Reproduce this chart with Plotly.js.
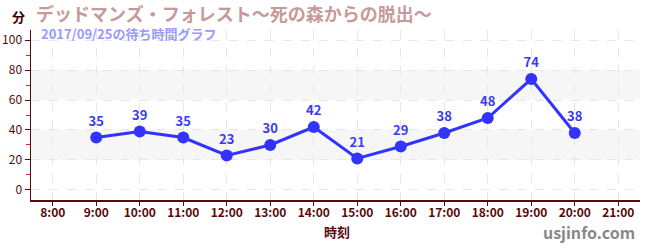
<!DOCTYPE html>
<html>
<head>
<meta charset="utf-8">
<script src="https://cdn.plot.ly/plotly-3.0.1.min.js"></script>
<style>html,body{margin:0;padding:0;background:#fff;}#chart{width:650px;height:250px;}</style>
</head>
<body>
<div id="chart"></div>
<script>
const hours = [9, 10, 11, 12, 13, 14, 15, 16, 17, 18, 19, 20];
const waits = [35, 39, 35, 23, 30, 42, 21, 29, 38, 48, 74, 38];
const xTickVals = [8, 9, 10, 11, 12, 13, 14, 15, 16, 17, 18, 19, 20, 21];
const xTickText = ["8:00","9:00","10:00","11:00","12:00","13:00","14:00","15:00","16:00","17:00","18:00","19:00","20:00","21:00"];
const bands = [[20, 40], [60, 80]];

const FONT = '"Noto Sans CJK JP", "Noto Sans", sans-serif';
const AX = '#5a0a0a';

const trace = {
  x: hours, y: waits, text: waits.map(String),
  type: 'scatter', mode: 'lines+markers+text',
  line: {color: '#3333ff', width: 3},
  marker: {color: '#3333ff', size: 12},
  textposition: 'top center',
  textfont: {family: FONT, size: 13, color: '#3b3bf0', weight: 'bold'},
  cliponaxis: false, hoverinfo: 'skip'
};

const layout = {
  width: 650, height: 250,
  margin: {l: 31, r: 10, t: 30, b: 50},
  paper_bgcolor: '#fff', plot_bgcolor: '#fff',
  showlegend: false,
  font: {family: FONT, color: AX},
  xaxis: {
    range: [7.5, 21.5], tickvals: xTickVals, ticktext: xTickText,
    ticks: 'outside', ticklen: 4, tickcolor: AX,
    ticklabelstandoff: -3,
    tickfont: {family: '"Liberation Sans Narrow", ' + FONT, size: 12, color: AX, weight: 'bold'},
    showline: true, linecolor: AX, linewidth: 1.5,
    showgrid: true, gridcolor: '#e6e6e6', griddash: 'dash', zeroline: false
  },
  yaxis: {
    range: [-6.7, 106.7], tickvals: [0, 20, 40, 60, 80, 100],
    ticks: 'outside', ticklen: 5, tickcolor: AX,
    tickfont: {family: FONT, size: 12, color: AX},
    showline: true, linecolor: AX, linewidth: 1.5,
    showgrid: true, gridcolor: '#e6e6e6', griddash: 'dash', zeroline: false,
    minor: {tickvals: [10, 30, 50, 70, 90], ticks: 'outside', ticklen: 4, tickcolor: '#dd2222', showgrid: false}
  },
  shapes: bands.map(b => ({
    type: 'rect', xref: 'paper', yref: 'y', x0: 0, x1: 1, y0: b[0], y1: b[1],
    fillcolor: '#f6f6f6', line: {width: 0}, layer: 'below'
  })),
  annotations: [
    {text: '分', xref: 'paper', yref: 'paper', x: -0.033, y: 1.082, xanchor: 'left', yanchor: 'middle', showarrow: false, borderpad: 0,
     font: {family: FONT, size: 13, color: '#3a0000', weight: 'bold'}},
    {text: 'デッドマンズ・フォレスト〜死の森からの脱出〜', xref: 'paper', yref: 'paper', x: 0.0066, y: 1.1, xanchor: 'left', yanchor: 'middle', showarrow: false, borderpad: 0,
     font: {family: FONT, size: 18, color: '#c79a9a', weight: 'bold'}},
    {text: '2017/09/25の待ち時間グラフ', xref: 'paper', yref: 'paper', x: 0.0148, y: 0.982, xanchor: 'left', yanchor: 'middle', showarrow: false, borderpad: 0,
     font: {family: FONT, size: 13, color: '#9a9aff', weight: 'bold'}},
    {text: '時刻', xref: 'paper', yref: 'paper', x: 0.502, y: -0.185, xanchor: 'center', yanchor: 'middle', showarrow: false,
     font: {family: FONT, size: 13, color: '#5a0a0a', weight: 'bold'}},
    {text: 'usjinfo.com', xref: 'paper', yref: 'paper', x: 0.995, y: -0.19, xanchor: 'right', yanchor: 'middle', showarrow: false,
     font: {family: FONT, size: 16, color: '#888888', weight: 'bold'}}
  ]
};

Plotly.newPlot('chart', [trace], layout, {displayModeBar: false, staticPlot: true});
</script>
</body>
</html>
